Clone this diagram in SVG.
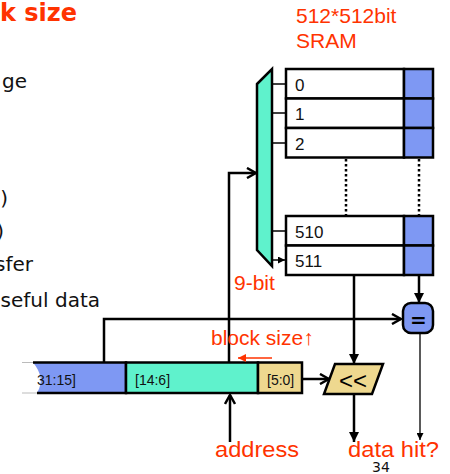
<svg xmlns="http://www.w3.org/2000/svg" width="450" height="474" viewBox="0 0 450 474">
<style>
.red{fill:#FF3300;font-family:"Liberation Sans",Arial,sans-serif;}
.body{fill:#111;font-family:"DejaVu Sans",Verdana,sans-serif;font-size:20px;}
.lbl{fill:#111;font-family:"Liberation Sans",Arial,sans-serif;font-size:14px;}
.rowlbl{fill:#111;font-family:"Liberation Sans",Arial,sans-serif;font-size:17px;}
.box{stroke:#000;stroke-width:2.5;}
.wire{fill:none;stroke:#000;stroke-width:2.5;}
.thin{fill:none;stroke:#000;stroke-width:1.3;}
.dot{fill:none;stroke:#000;stroke-width:2.5;stroke-dasharray:2.5 2.5;}
</style>
<defs>
<marker id="open" viewBox="0 0 12 12" refX="11" refY="6" markerWidth="12" markerHeight="12" markerUnits="userSpaceOnUse" orient="auto">
<path d="M2,1 L11,6 L2,11" fill="none" stroke="#000" stroke-width="2.5"/>
</marker>
<marker id="fill" viewBox="0 0 10 10" refX="10" refY="5" markerWidth="10" markerHeight="10" markerUnits="userSpaceOnUse" orient="auto">
<path d="M0,0 L10,5 L0,10 z" fill="#000"/>
</marker>
<marker id="small" viewBox="0 0 8 8" refX="8" refY="4" markerWidth="7" markerHeight="7" markerUnits="userSpaceOnUse" orient="auto">
<path d="M0,0 L8,4 L0,8 z" fill="#000"/>
</marker>
<marker id="redm" viewBox="0 0 8 8" refX="8" refY="4" markerWidth="8" markerHeight="8" markerUnits="userSpaceOnUse" orient="auto">
<path d="M0,0 L8,4 L0,8 z" fill="#FF3300"/>
</marker>
</defs>
<rect width="450" height="474" fill="#fff"/>

<!-- slide text -->
<text x="0" y="21" style="fill:#FF3300;font-family:'DejaVu Sans',Verdana,sans-serif;font-size:24px;font-weight:bold">k size</text>
<text x="27" y="88" class="body" text-anchor="end">ge</text>
<text x="8" y="205" class="body" text-anchor="end">)</text>
<text x="4" y="238" class="body" text-anchor="end">)</text>
<text x="33" y="271" class="body" text-anchor="end">sfer</text>
<text x="100" y="307" class="body" text-anchor="end">seful data</text>

<text x="296" y="23" class="red" font-size="21">512*512bit</text>
<text x="296" y="48" class="red" font-size="21">SRAM</text>

<!-- SRAM -->
<g id="sram">
<g id="row0"><rect x="286" y="69" width="118" height="29.5" fill="#fff" class="box"/><rect x="404" y="69" width="29" height="29.5" fill="#7E98F3" class="box"/><text x="295" y="91" class="rowlbl">0</text></g>
<g id="row1"><rect x="286" y="98.5" width="118" height="29.5" fill="#fff" class="box"/><rect x="404" y="98.5" width="29" height="29.5" fill="#7E98F3" class="box"/><text x="295" y="120" class="rowlbl">1</text></g>
<g id="row2"><rect x="286" y="128" width="118" height="29.5" fill="#fff" class="box"/><rect x="404" y="128" width="29" height="29.5" fill="#7E98F3" class="box"/><text x="295" y="150" class="rowlbl">2</text></g>
<g id="row510"><rect x="286" y="216" width="118" height="29.5" fill="#fff" class="box"/><rect x="404" y="216" width="29" height="29.5" fill="#7E98F3" class="box"/><text x="295" y="238" class="rowlbl">510</text></g>
<g id="row511"><rect x="286" y="245.5" width="118" height="29.5" fill="#fff" class="box"/><rect x="404" y="245.5" width="29" height="29.5" fill="#7E98F3" class="box"/><text x="295" y="267" class="rowlbl">511</text></g>
<path d="M346,159 V215 M419,159 V215" class="dot"/>
</g>

<!-- decoder -->
<g id="decoder">
<polygon points="257,84 272,69 272,266 257,250" fill="#5FF2CC" class="box"/>
<text x="234" y="290" class="red" font-size="21">9-bit</text>
</g>

<!-- address register -->
<g id="address">
<path d="M22,362.5 H34 M22,393 H38" stroke="#bbb" stroke-width="1" fill="none"/>
<path d="M33,362.5 H126 V393 H37 Q46,378 33,362.5 Z" fill="#7E98F3"/>
<path d="M33,362.5 H126 V393 H37" class="wire"/>
<rect x="126" y="362.5" width="132" height="30.5" fill="#5FF2CC" class="box"/>
<rect x="258" y="362.5" width="44" height="30.5" fill="#EED88F" class="box"/>
<text x="37" y="385" class="lbl">31:15]</text>
<text x="135" y="385" class="lbl">[14:6]</text>
<text x="267" y="385" class="lbl">[5:0]</text>
</g>

<!-- shifter -->
<g id="shifter">
<polygon points="335,364 383,364 372,394 324,394" fill="#EED88F" class="box"/>
<text x="353" y="389" text-anchor="middle" style="fill:#000;font-family:'Liberation Sans',Arial,sans-serif;font-size:24px">&lt;&lt;</text>
</g>

<!-- comparator -->
<g id="compare">
<rect x="403" y="303" width="30" height="30" rx="8" fill="#7E98F3" class="box"/>
<text x="418.5" y="327" text-anchor="middle" style="fill:#000;font-family:'DejaVu Sans',sans-serif;font-size:20px;font-weight:bold">=</text>
</g>

<!-- connectors -->
<g id="connectors">
<path d="M272,84 H285 M272,113 H285 M272,143 H285 M272,231 H285 M272,260 H285" fill="none" stroke="#000" stroke-width="1.5" marker-end="url(#small)"/>
<path d="M229,362 V173 H256" class="wire" marker-end="url(#open)"/>
<path d="M104,362 V319 H401" class="wire" marker-end="url(#open)"/>
<path d="M302,379 H329" class="wire" marker-end="url(#open)"/>
<path d="M230,442 V395" class="wire" marker-end="url(#open)"/>
<path d="M354,276 V364" class="wire" marker-end="url(#fill)"/>
<path d="M419,276 V303" class="wire" marker-end="url(#fill)"/>
<path d="M354,395 V442" class="wire" marker-end="url(#fill)"/>
<path d="M420,334 V440" class="thin" marker-end="url(#small)"/>
<path d="M272,358 H238" fill="none" stroke="#FF3300" stroke-width="1.5" marker-end="url(#redm)"/>
</g>

<text x="211" y="345" class="red" font-size="21">block size↑</text>
<text x="215" y="457" class="red" font-size="22" textLength="84" lengthAdjust="spacingAndGlyphs">address</text>
<text x="348" y="457" class="red" font-size="22" textLength="91" lengthAdjust="spacingAndGlyphs">data hit?</text>
<text x="372" y="472" style="fill:#111;font-family:'DejaVu Sans',sans-serif;font-size:14px">34</text>
</svg>
